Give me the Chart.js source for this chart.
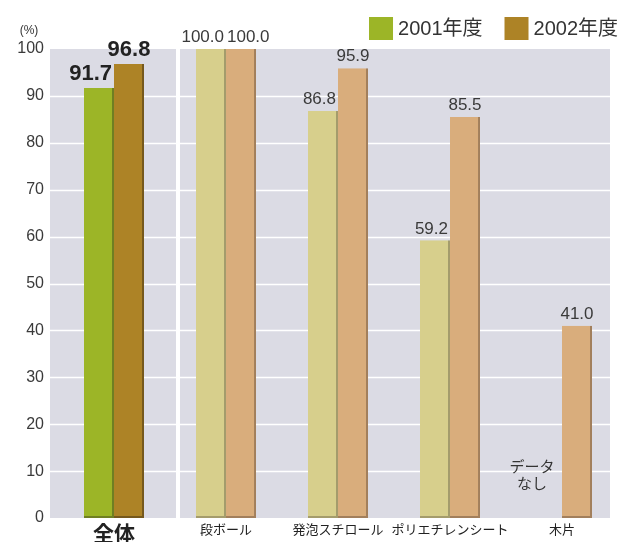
<!DOCTYPE html>
<html>
<head>
<meta charset="utf-8">
<script src="https://cdn.jsdelivr.net/npm/chart.js@4"></script>
<style>
  html, body { margin: 0; padding: 0; background: #fff; }
  #wrap { width: 620px; height: 542px; position: relative; }
</style>
</head>
<body>
<div id="wrap"><canvas id="chart"></canvas></div>
<script>
/* ---------- DATA ---------- */
const categories = ['全体', '段ボール', '発泡スチロール', 'ポリエチレンシート', '木片'];
const seriesNames = ['2001年度', '2002年度'];
const values2001 = [91.7, 100.0, 86.8, 59.2, null];
const values2002 = [96.8, 100.0, 95.9, 85.5, 41.0];
const yMin = 0, yMax = 100, yStep = 10;
const noDataText = ['データ', 'なし'];
const unitText = '(%)';

/* ---------- COLOURS ---------- */
const FONT = "'Liberation Sans', 'Noto Sans CJK JP', sans-serif";
const PANEL = '#dbdbe4';
const fill2001 = categories.map((c, i) => i === 0 ? '#9cb527' : '#d7cf8c');
const fill2002 = categories.map((c, i) => i === 0 ? '#ad8326' : '#d9ad7c');
const edge2001 = categories.map((c, i) => i === 0 ? '#6f7f22' : '#a49c6c');
const edge2002 = categories.map((c, i) => i === 0 ? '#75581c' : '#a27f5c');
const legendColors = [fill2001[0], fill2002[0]];

/* ---------- PANEL / GRID PLUGIN ---------- */
const panelPlugin = {
  id: 'panels',
  beforeDatasetsDraw(chart) {
    const { ctx, chartArea: a, scales: { x, y } } = chart;
    const left = a.left - 8, right = a.right - 8;
    const sep = x.getPixelForValue(0.5) + 8;
    ctx.save();
    ctx.fillStyle = PANEL;
    ctx.fillRect(left, a.top, sep - 2 - left, a.bottom - a.top);
    ctx.fillRect(sep + 2, a.top, right - sep - 2, a.bottom - a.top);
    ctx.strokeStyle = '#ffffff';
    ctx.lineWidth = 1.5;
    for (let v = yMin + yStep; v < yMax; v += yStep) {
      const py = Math.round(y.getPixelForValue(v)) + 0.5;
      ctx.beginPath();
      ctx.moveTo(left, py);
      ctx.lineTo(right, py);
      ctx.stroke();
    }
    ctx.restore();
  }
};

/* ---------- VALUE LABELS, LEGEND, NOTES ---------- */
const labelPlugin = {
  id: 'labels',
  afterDatasetsDraw(chart) {
    const { ctx, chartArea: a } = chart;
    const m0 = chart.getDatasetMeta(0), m1 = chart.getDatasetMeta(1);
    ctx.save();
    ctx.textBaseline = 'bottom';
    categories.forEach((c, i) => {
      const big = i === 0;
      const size = big ? 22 : 17;
      ctx.font = (big ? 'bold ' : '') + size + 'px ' + FONT;
      ctx.fillStyle = big ? '#222' : '#3a3a3a';
      let right0 = null, y0 = null;
      if (values2001[i] != null) {
        const b = m0.data[i];
        right0 = b.x + b.width / 2 - 2;
        y0 = b.y - 3;
        ctx.textAlign = 'right';
        ctx.fillText(values2001[i].toFixed(1), right0, y0);
      }
      if (values2002[i] != null) {
        const b = m1.data[i];
        const t = values2002[i].toFixed(1);
        const w = ctx.measureText(t).width;
        let cx = b.x;
        const y1 = b.y - 3;
        if (right0 != null && Math.abs(y1 - y0) < size && cx - w / 2 < right0 + 3) {
          cx = right0 + 3 + w / 2;
        }
        ctx.textAlign = 'center';
        ctx.fillText(t, cx, y1);
      }
      if (values2001[i] == null) {
        const b = m1.data[i];
        const cx = b.x - b.width * 1.5;
        ctx.font = '15px ' + FONT;
        ctx.fillStyle = '#333';
        ctx.textAlign = 'center';
        ctx.textBaseline = 'middle';
        ctx.fillText(noDataText[0], cx, a.bottom - 50);
        ctx.fillText(noDataText[1], cx, a.bottom - 33);
        ctx.textBaseline = 'bottom';
      }
    });

    // unit
    ctx.font = '12px ' + FONT;
    ctx.fillStyle = '#333';
    ctx.textAlign = 'center';
    ctx.textBaseline = 'middle';
    ctx.fillText(unitText, 29, 31);

    // legend
    ctx.font = '20px ' + FONT;
    ctx.textAlign = 'left';
    const box = 24, gapBox = 5, gapItem = 22;
    const widths = seriesNames.map(n => ctx.measureText(n).width);
    let total = 0;
    widths.forEach((w, i) => { total += box + gapBox + w + (i ? gapItem : 0); });
    let lx = a.right - total;
    seriesNames.forEach((n, i) => {
      ctx.fillStyle = legendColors[i];
      ctx.fillRect(lx, 17, box, 23);
      ctx.fillStyle = '#333';
      ctx.fillText(n, lx + box + gapBox, 29);
      lx += box + gapBox + widths[i] + gapItem;
    });
    ctx.restore();
  }
};

/* ---------- CHART ---------- */
const barCommon = {
  borderWidth: { left: 0, top: 0, right: 2, bottom: 2 },
  borderSkipped: false,
  categoryPercentage: 0.536,
  barPercentage: 1.0
};

new Chart(document.getElementById('chart'), {
  type: 'bar',
  data: {
    labels: categories,
    datasets: [
      Object.assign({ label: seriesNames[0], data: values2001, backgroundColor: fill2001, borderColor: edge2001 }, barCommon),
      Object.assign({ label: seriesNames[1], data: values2002, backgroundColor: fill2002, borderColor: edge2002 }, barCommon)
    ]
  },
  options: {
    responsive: true, maintainAspectRatio: false, animation: false,
    layout: { padding: { top: 49, right: 2, left: 0, bottom: 0 } },
    plugins: { legend: { display: false }, tooltip: { enabled: false } },
    scales: {
      x: {
        grid: { display: false, drawTicks: false },
        border: { display: false },
        ticks: {
          padding: 5,
          color: '#222',
          maxRotation: 0, autoSkip: false,
          font: (c) => c.index === 0
            ? { family: FONT, size: 21, weight: 'bold' }
            : { family: FONT, size: 13 }
        },
        afterFit: (s) => { s.height = 24; }
      },
      y: {
        min: yMin, max: yMax,
        grid: { display: false, drawTicks: false },
        border: { display: false },
        ticks: { stepSize: yStep, padding: 14, color: '#3a3a3a', font: { family: FONT, size: 16 } },
        afterFit: (s) => { s.width = 58; }
      }
    }
  },
  plugins: [panelPlugin, labelPlugin]
});
</script>
</body>
</html>
